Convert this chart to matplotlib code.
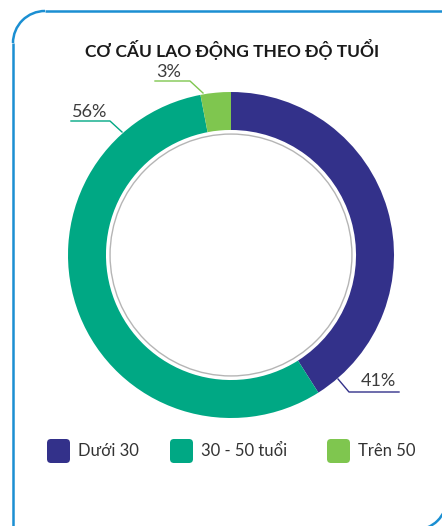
import matplotlib
matplotlib.use("Agg")
import matplotlib.pyplot as plt
from matplotlib.patches import Circle, FancyBboxPatch, Arc

plt.rcParams['font.family'] = ['Lato', 'DejaVu Sans']

title = "CƠ CẤU LAO ĐỘNG THEO ĐỘ TUỔI"
categories = ["Dưới 30", "30 - 50 tuổi", "Trên 50"]
shares = [41, 56, 3]
colors = ["#33318a", "#00a884", "#7fc64f"]

W, H = 442, 526
fig = plt.figure(figsize=(W / 100, H / 100), dpi=100)
fig.patch.set_facecolor("white")

# Pixel-coordinate overlay (y grows downward) for frame, title, labels, legend
ov = fig.add_axes([0, 0, 1, 1], zorder=3)
ov.set_xlim(0, W)
ov.set_ylim(H, 0)
ov.axis("off")
ov.patch.set_alpha(0)

frame_c = "#1b8fd2"
r = 32
ov.plot([13, 13], [11 + r, H + 5], color=frame_c, lw=1.8, solid_capstyle="butt")
ov.plot([13 + r, W + 5], [11, 11], color=frame_c, lw=1.8, solid_capstyle="butt")
ov.add_patch(Arc((13 + r, 11 + r), 2 * r, 2 * r, theta1=180, theta2=270,
                 color=frame_c, lw=1.8))
ov.add_patch(Arc((415, 498), 2 * r, 2 * r, theta1=0, theta2=90,
                 color=frame_c, lw=1.8))

ov.text(232, 50, title, ha="center", va="center", fontsize=12.5,
        fontweight="bold", color="#1a1a1a")

# Donut
cx, cy, R = 231, 255, 163
pax = fig.add_axes([(cx - R) / W, (H - cy - R) / H, 2 * R / W, 2 * R / H], zorder=2)
wedges, _ = pax.pie(shares, colors=colors, startangle=90, counterclock=False,
                    radius=1.0, wedgeprops=dict(width=0.233, linewidth=0))
pax.add_patch(Circle((0, 0), 0.742, facecolor="white", edgecolor="#b5b5b5", lw=1.0))
pax.set_xlim(-1, 1)
pax.set_ylim(-1, 1)
pax.set_aspect("equal")
pax.axis("off")

# Percentage labels with leader lines
lab_c = "#3c3c3c"
lbl = [f"{v}%" for v in shares]
ov.text(378, 381, lbl[0], ha="center", va="center", fontsize=13, color=lab_c)
ov.plot([338, 349, 399], [379, 392, 392], color=colors[0], lw=1)
ov.text(90, 112, lbl[1], ha="center", va="center", fontsize=13, color=lab_c)
ov.plot([71, 110, 122], [121, 121, 132], color=colors[1], lw=1)
ov.text(169, 72, lbl[2], ha="center", va="center", fontsize=13, color=lab_c)
ov.plot([155, 190, 203], [81, 81, 93], color=colors[2], lw=1)

# Legend
sq_x = [47, 170, 327]
for x0, c, name in zip(sq_x, colors, categories):
    ov.add_patch(FancyBboxPatch((x0 + 3, 442), 17, 18,
                                boxstyle="round,pad=3,rounding_size=4",
                                facecolor=c, edgecolor="none"))
    ov.text(x0 + 31, 451, name, ha="left", va="center", fontsize=12, color="#333333")

fig.savefig("out.png", dpi=100, facecolor="white")
